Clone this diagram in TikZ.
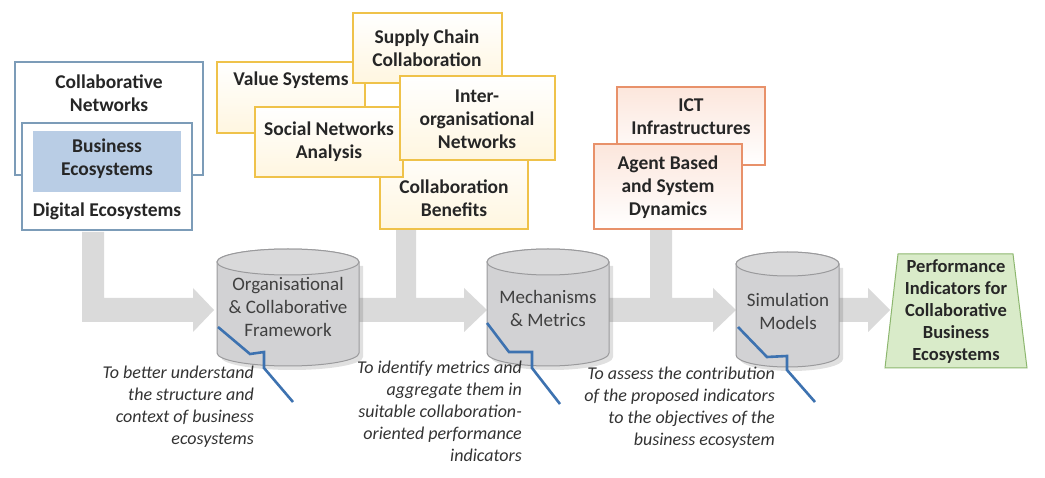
\documentclass[tikz,border=0pt]{standalone}
\usepackage{fontspec}
\setmainfont{Carlito}
\begin{document}
\begin{tikzpicture}[x=1pt,y=-1pt,
  bx/.style={draw=#1,line width=1.2pt},
  yb/.style={bx=boxY,top color=white,bottom color=fillY},
  ob/.style={bx=boxO,top color=fillO,bottom color=white},
  bt/.style={font=\fontsize{19.5}{23}\selectfont\bfseries,align=center,text=black!85},
  ct/.style={font=\fontsize{19}{23}\selectfont,align=center,text=black!75},
  it/.style={font=\fontsize{18}{22}\selectfont\itshape,align=right,text=black!80,anchor=north east,inner sep=0pt},
  arr/.style={fill=arrG,draw=none},
  zz/.style={draw=zzB,line width=2.6pt,line join=miter}]
\definecolor{boxY}{HTML}{EFC24A}
\definecolor{fillY}{HTML}{FFF6E0}
\definecolor{boxO}{HTML}{E8916A}
\definecolor{fillO}{HTML}{FCE6DC}
\definecolor{boxB}{HTML}{7C9CB8}
\definecolor{fillB}{HTML}{B9CDE5}
\definecolor{grn}{HTML}{D9EBC9}
\definecolor{grnD}{HTML}{8DB76F}
\definecolor{arrG}{HTML}{DADADA}
\definecolor{cylG}{HTML}{D2D2D4}
\definecolor{cylD}{HTML}{9A9A9C}
\definecolor{zzB}{HTML}{3D72B0}
\useasboundingbox (0,0) rectangle (1045,478);
\fill[white] (0,0) rectangle (1045,478);
% grey arrows
\fill[arr] (82,232) -- (104,232) -- (104,298) -- (193,298) -- (193,288) -- (214,310) -- (193,332) -- (193,322) -- (82,322) -- cycle;
\fill[arr] (359,298) -- (396,298) -- (396,229) -- (416,229) -- (416,298) -- (464,298) -- (464,288) -- (487,310) -- (464,332) -- (464,322) -- (359,322) -- cycle;
\fill[arr] (609,298) -- (650,298) -- (650,229) -- (672,229) -- (672,298) -- (713,298) -- (713,288) -- (736,310) -- (713,332) -- (713,322) -- (609,322) -- cycle;
\fill[arr] (839,298) -- (868,298) -- (868,288) -- (890,310) -- (868,332) -- (868,322) -- (839,322) -- cycle;
% boxes left
\draw[bx=boxB,fill=white] (15,62) rectangle (203,175);
\node[bt] (cn) at (109,93) {Collaborative\\Networks};
\draw[bx=boxB,fill=white] (22,123) rectangle (192,230);
\fill[fillB] (33,131) rectangle (181,192);
\node[bt] (be) at (107,159) {Business\\Ecosystems};
\node[bt] (de) at (107,211) {Digital Ecosystems};
% yellow boxes
\draw[yb] (217,62) rectangle (365,133);
\node[bt] (vs) at (291,80) {Value Systems};
\draw[yb] (353,13) rectangle (502,83);
\node[bt] (sc) at (427,48) {Supply Chain\\Collaboration};
\draw[yb] (380,140) rectangle (528,229);
\node[bt] (cb) at (454,198) {Collaboration\\Benefits};
\draw[yb] (255,107) rectangle (403,177);
\node[bt] (sn) at (329,142) {Social Networks\\Analysis};
\draw[yb] (400,76) rectangle (555,160);
\node[bt] (io) at (477,119) {Inter-\\organisational\\Networks};
% orange boxes
\draw[ob] (617,87) rectangle (765,165);
\node[bt] (ict) at (691,117) {ICT\\Infrastructures};
\draw[ob] (594,144) rectangle (742,229);
\node[bt] (ab) at (668,187) {Agent Based\\and System\\Dynamics};
% cylinders
\newcommand\mycyl[5]{%
  \fill[black,opacity=0.12] (#1+4,#3+4) -- (#1+4,#4+4) arc[start angle=180,end angle=0,x radius=(#2-#1)/2,y radius=#5] -- (#2+4,#3+4) -- cycle;
  \draw[cylD,fill=cylG,line width=1pt] (#1,#3) -- (#1,#4) arc[start angle=180,end angle=0,x radius=(#2-#1)/2,y radius=#5] -- (#2,#3) arc[start angle=0,end angle=-180,x radius=(#2-#1)/2,y radius=#5] -- cycle;
  \draw[cylD,fill=cylG!85!white,line width=1pt] ({(#1+#2)/2},#3) ellipse[x radius=(#2-#1)/2,y radius=#5];}
\mycyl{217}{359}{262}{353}{13}
\mycyl{487}{609}{262}{353}{13}
\mycyl{736}{839}{264}{355}{12}
\node[ct] (c1) at (288,307) {Organisational\\\& Collaborative\\Framework};
\node[ct] (c2) at (548,308) {Mechanisms\\\& Metrics};
\node[ct] (c3) at (788,311) {Simulation\\Models};
% performance
\draw[grnD,fill=grn,line width=1pt] (898,254) -- (1013,254) -- (1027,368) -- (885,368) -- cycle;
\node[bt,font=\fontsize{18.5}{22}\selectfont\bfseries] (pi) at (956,312) {Performance\\Indicators for\\Collaborative\\Business\\Ecosystems};
% zigzags
\draw[zz] (218,327) -- (250,354) -- (264,352) -- (264,368) -- (293,402);
\draw[zz] (487,323) -- (509,352) -- (532,352) -- (532,368) -- (560,404);
\draw[zz] (738,327) -- (767,357) -- (787,356) -- (787,370) -- (815,402);
% italic texts
\node[it] (t1) at (254,366) {To better understand\\the structure and\\context of business\\ecosystems};
\node[it] (t2) at (522,361) {To identify metrics and\\aggregate them in\\suitable collaboration-\\oriented performance\\indicators};
\node[it] (t3) at (775,367) {To assess the contribution\\of the proposed indicators\\to the objectives of the\\business ecosystem};
\end{tikzpicture}
\end{document}
